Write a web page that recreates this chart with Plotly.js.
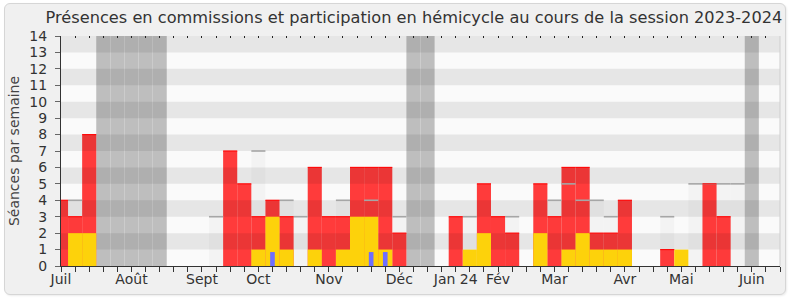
<!DOCTYPE html>
<html>
<head>
<meta charset="utf-8">
<script src="https://cdn.plot.ly/plotly-3.0.1.min.js"></script>
<style>
  html, body { margin: 0; padding: 0; background: #ffffff; }
  #wrap { position: relative; width: 790px; height: 300px; }
  #frame { position: absolute; left: 4px; top: 3px; width: 780px; height: 290px;
           background: #f0f0f0; border: 1px solid #d6d6d6; border-radius: 6px;
           box-shadow: 1px 1px 2px rgba(0,0,0,0.08); }
  #chart { position: absolute; left: 0; top: 0; width: 790px; height: 300px; }
</style>
</head>
<body>
<div id="wrap"><div id="frame"></div><div id="chart"></div></div>
<script>
// ---- data (one value per week, week 0 = first week of July 2023) ----
const presenceCommission = [4,3,8,0,0,0,0,0,0,0,0,0,7,5,3,4,3,0,6,3,3,6,6,6,2,0,0,0,3,0,5,3,2,0,5,3,6,6,2,2,4,0,0,1,0,0,5,3,0,0,0,0];
const participationHemicycle = [0,2,2,0,0,0,0,0,0,0,0,0,0,0,1,3,1,0,1,0,1,3,3,1,0,0,0,0,0,1,2,0,0,0,2,0,1,2,1,1,1,0,0,0,1,0,0,0,0,0,0,0];
const questionsOrales = [0,0,0,0,0,0,0,0,0,0,0,0,0,0,0,0.85,0,0,0,0,0,0,0.85,0.85,0,0,0,0,0,0,0,0,0,0,0,0,0,0,0,0,0,0,0,0,0,0,0,0,0,0,0,0];
const medianeDeputes = [0,4,0,0,0,0,0,0,0,0,0,3,0,0,7,0,4,3,0,0,4,0,4,0,3,0,0,0,0,3,0,0,3,0,0,4,5,4,4,3,0,0,0,3,0,5,5,5,5,0,0,0];
const vacances = [3,4,5,6,7,25,26,49];
const monthLabels = ["Juil","Août","Sept","Oct","Nov","Déc","Jan 24","Fév","Mar","Avr","Mai","Juin"];
const monthWeeks = [0,5,10,14,19,24,28,31,35,40,44,49];
const yTicks = [0,1,2,3,4,5,6,7,8,9,10,11,12,13,14];

const weeks = presenceCommission.map((_, i) => i);
const FONT = "DejaVu Sans, sans-serif";

function topSegments(values) {
  const xs = [], ys = [];
  values.forEach((v, i) => { if (v > 0) { xs.push(i - 0.5, i + 0.5, null); ys.push(v, v, null); } });
  return {xs, ys};
}
const medSeg = topSegments(medianeDeputes);
const redSeg = topSegments(presenceCommission);

// alternating background bands (odd rows darker)
const bandBases = yTicks.filter(v => v % 2 === 1 && v < 14);

const traces = [
  { type: 'bar', x: weeks, y: medianeDeputes, width: 1, marker: {color: 'rgba(0,0,0,0.028)'}, hoverinfo: 'skip' },
  { type: 'scatter', mode: 'lines', x: medSeg.xs, y: medSeg.ys, line: {color: '#a6a6a6', width: 1.6}, hoverinfo: 'skip', connectgaps: false },
  { type: 'bar', x: weeks, y: presenceCommission, width: 1, marker: {color: 'rgba(255,30,30,0.87)'}, hoverinfo: 'skip' },
  { type: 'scatter', mode: 'lines', x: redSeg.xs, y: redSeg.ys, line: {color: '#ff0a0a', width: 1.2}, hoverinfo: 'skip', connectgaps: false },
  { type: 'bar', x: bandBases.map(() => 25.5), y: bandBases.map(() => 1), base: bandBases, width: 60,
    marker: {color: 'rgba(0,0,0,0.08)'}, hoverinfo: 'skip' },
  { type: 'bar', x: weeks, y: participationHemicycle, width: 1, marker: {color: '#fdd20b'}, hoverinfo: 'skip' },
  { type: 'bar', x: weeks, y: questionsOrales, width: 0.33, marker: {color: '#6e6eff'}, hoverinfo: 'skip' }
];

const shapes = vacances.map(w => ({
  type: 'rect', layer: 'below', xref: 'x', yref: 'paper', x0: w - 0.5, x1: w + 0.5, y0: 0, y1: 1,
  fillcolor: '#bebebe', line: {width: 0}
}));
shapes.push({type: 'line', xref: 'paper', yref: 'paper', x0: 1, x1: 1, y0: 0, y1: 1, line: {color: '#cfcfcf', width: 1}});

const layout = {
  width: 790, height: 300,
  margin: {l: 61, r: 10, t: 36, b: 34},
  paper_bgcolor: 'rgba(0,0,0,0)',
  plot_bgcolor: '#fafafa',
  barmode: 'overlay',
  showlegend: false,
  font: {family: FONT, color: '#333'},
  title: {text: 'Présences en commissions et participation en hémicycle au cours de la session 2023-2024',
          font: {family: FONT, size: 16.2, color: '#333'},
          xref: 'container', x: 0.524, xanchor: 'center', yref: 'container', y: 0.943, yanchor: 'middle'},
  xaxis: {
    range: [0, 51], tickmode: 'array', tickvals: monthWeeks, ticktext: monthLabels,
    ticks: 'outside', ticklen: 5, tickcolor: '#333', showgrid: false, zeroline: false,
    showline: true, linecolor: '#333', linewidth: 1, ticklabelstandoff: -5,
    tickfont: {family: FONT, size: 14, color: '#333'},
    minor: {tickmode: 'linear', tick0: 0, dtick: 1, ticks: 'outside', ticklen: 5, tickcolor: '#333'}
  },
  xaxis2: {
    overlaying: 'x', side: 'top', range: [0, 51], tickmode: 'linear', tick0: 0, dtick: 1,
    ticks: 'inside', ticklen: 1.5, tickcolor: '#222', showticklabels: false, showgrid: false,
    zeroline: false, showline: false
  },
  yaxis: {
    range: [0, 14], tickmode: 'array', tickvals: yTicks, ticks: 'outside', ticklen: 5, tickcolor: '#666',
    showgrid: false, zeroline: false, showline: true, linecolor: '#333', linewidth: 1, ticklabelstandoff: 5,
    tickfont: {family: FONT, size: 14, color: '#333'},
    title: {text: 'Séances par semaine', font: {family: FONT, size: 14, color: '#444'}, standoff: 6}
  },
  shapes: shapes
};

// dummy trace to show the top axis
traces.push({type: 'scatter', x: [0], y: [0], xaxis: 'x2', mode: 'markers', marker: {opacity: 0}, hoverinfo: 'skip'});

Plotly.newPlot('chart', traces, layout, {displayModeBar: false, staticPlot: true});
</script>
</body>
</html>
